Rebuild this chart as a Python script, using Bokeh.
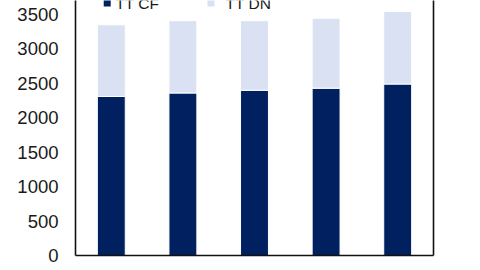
from bokeh.plotting import figure
from bokeh.models import FixedTicker, LinearAxis, ColumnDataSource, Range1d
from bokeh.core.properties import value
from bokeh.embed import file_html
from bokeh.resources import INLINE

# ---- data ----
categories = ["1", "2", "3", "4", "5"]
tt_cf = [2310, 2360, 2400, 2430, 2490]
tt_dn = [1040, 1050, 1010, 1015, 1055]
series_names = ["TT CF", "TT DN"]
y_ticks = [0, 500, 1000, 1500, 2000, 2500, 3000, 3500]

DARK = "#002060"
LIGHT = "#d9e1f2"
FONT = "Liberation Sans"

W, H = 480, 270
LEFT, RIGHT, TOP, BOTTOM = 75, 47, 0, 15
Y_END = 3703
frame_h = H - TOP - BOTTOM
ppu = frame_h / Y_END  # pixels per data unit

xs = list(range(1, len(categories) + 1))
totals = [a + b for a, b in zip(tt_cf, tt_dn)]
src = ColumnDataSource(dict(x=xs, cf=tt_cf, dn=tt_dn, tot=totals))

p = figure(width=W, height=H, output_backend="svg", toolbar_location=None,
           x_range=Range1d(0.5, len(categories) + 0.5), y_range=Range1d(0, Y_END),
           min_border=0)
p.min_border_left = LEFT
p.min_border_right = RIGHT
p.min_border_top = TOP
p.min_border_bottom = BOTTOM
p.outline_line_color = None
p.background_fill_color = "white"
p.border_fill_color = "white"
p.xgrid.visible = False
p.ygrid.visible = False

p.vbar(x="x", bottom=0, top="cf", width=0.39, source=src,
       fill_color=DARK, line_color="white", line_width=1)
p.vbar(x="x", bottom="cf", top="tot", width=0.39, source=src,
       fill_color=LIGHT, line_color="white", line_width=1)

# y axis
ya = p.yaxis[0]
ya.ticker = FixedTicker(ticks=y_ticks)
ya.major_tick_line_color = None
ya.minor_tick_line_color = None
ya.major_tick_out = 0
ya.major_tick_in = 0
ya.major_label_standoff = 17
ya.major_label_text_font = FONT
ya.major_label_text_font_size = "18.5px"
ya.major_label_text_color = "#1a1a1a"
ya.axis_line_color = "#111111"
ya.axis_line_width = 1.6

# x axis (labels fall outside the picture in the reference)
xa = p.xaxis[0]
xa.ticker = FixedTicker(ticks=[])
xa.major_tick_line_color = None
xa.minor_tick_line_color = None
xa.major_tick_out = 0
xa.major_tick_in = 0
xa.axis_line_color = "#111111"
xa.axis_line_width = 1.6

# right border line
ra = LinearAxis(ticker=FixedTicker(ticks=[]),
                major_tick_line_color=None, minor_tick_line_color=None,
                major_tick_out=0, major_tick_in=0, major_label_standoff=0,
                axis_line_color="#111111", axis_line_width=1.6)
p.add_layout(ra, "right")

# legend (top, partially cut off as in the reference)
y_marker = Y_END - 2.5 / ppu
y_text = Y_END - 3.0 / ppu
p.scatter(x=[0.943, 2.392], y=[y_marker, y_marker], marker="square", size=7,
          fill_color=[DARK, LIGHT], line_color=None)
p.text(x=[1.057, 2.595], y=[y_text, y_text], text=series_names,
       text_font=value(FONT), text_font_size="15.5px", text_color="#1a1a1a",
       text_baseline="alphabetic", text_align="left")

open("out.html", "w").write(file_html(p, INLINE))
